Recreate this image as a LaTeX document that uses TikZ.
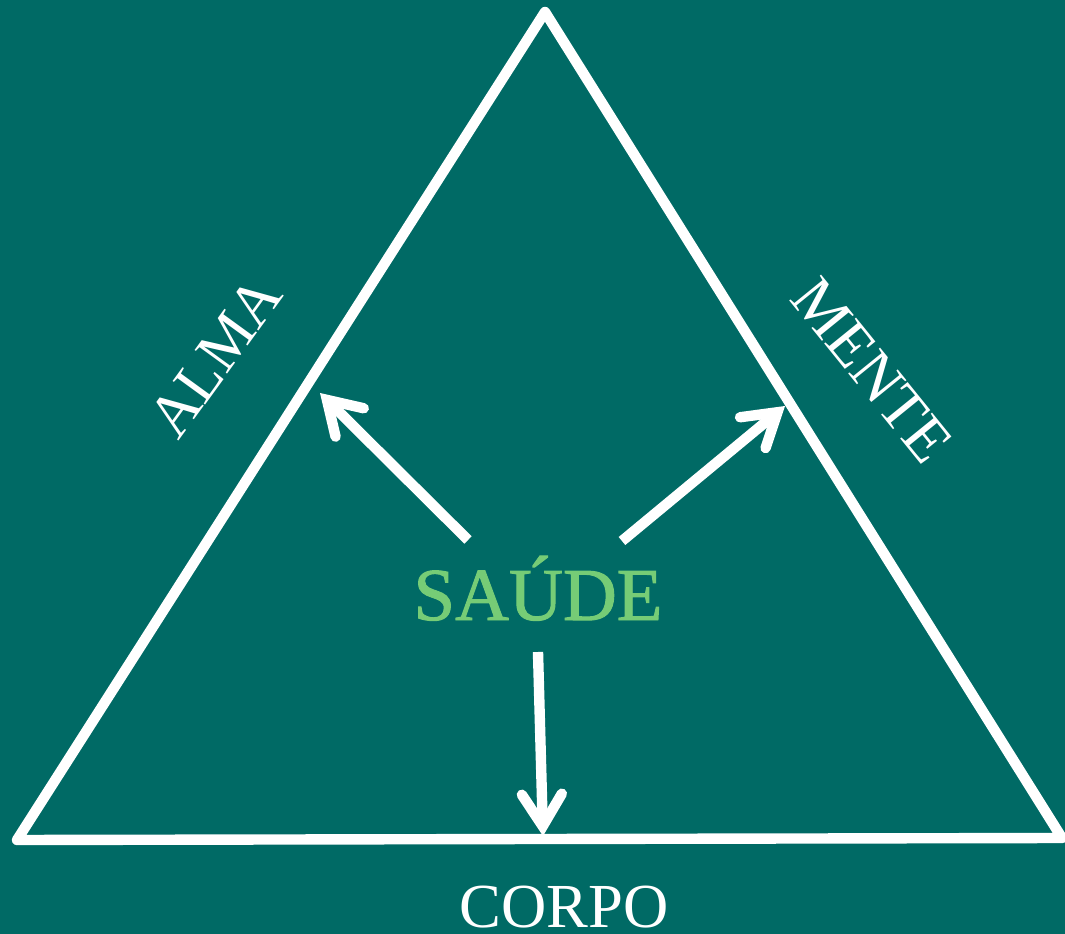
\documentclass[tikz,border=0pt]{standalone}
\usepackage{fontspec}
\setmainfont{Liberation Serif}
\newfontfamily\saudefont[FakeBold=1.3]{Liberation Serif}
\usetikzlibrary{arrows.meta}
\definecolor{bg}{RGB}{0,106,101}
\definecolor{saude}{RGB}{118,204,118}
\tikzset{
  edge/.style={draw=white, line width=7.8pt, line join=round, line cap=round},
  arr/.style={draw=white, line width=7.8pt, -{Straight Barb[line cap=round, line join=miter, length=24pt, width=30pt]}},
  label/.style={text=white, inner sep=0pt},
}
\begin{document}
\begin{tikzpicture}[x=0.75pt, y=-0.75pt]
\fill[bg] (0,0) rectangle (1065,934);
\useasboundingbox (0,0) rectangle (1065,934);
\coordinate (top) at (545,12);
\coordinate (bl) at (17,840);
\coordinate (br) at (1062,838);
\draw[edge] (top) -- (bl) -- (br) -- cycle;
\coordinate (a1s) at (468,540);
\coordinate (a1e) at (320,393);
\coordinate (a2s) at (622,541);
\coordinate (a2e) at (785,406);
\coordinate (a3s) at (538,652);
\coordinate (a3e) at (543,836);
\draw[arr] (a1s) -- (a1e);
\draw[arr] (a2s) -- (a2e);
\draw[arr] (a3s) -- (a3e);
\node[label, rotate=54, font=\fontsize{46}{50}\selectfont] (alma) at (215,357) {ALMA};
\node[label, rotate=-51, font=\fontsize{47}{50}\selectfont] (mente) at (872,370) {MENTE};
\node[label, anchor=base, font=\fontsize{47}{50}\selectfont] (corpo) at (564,927) {CORPO};
\node[inner sep=0pt, anchor=base, text=saude, font=\saudefont\fontsize{56}{60}\selectfont] (saude) at (538,620) {SAÚDE};
\end{tikzpicture}
\end{document}
